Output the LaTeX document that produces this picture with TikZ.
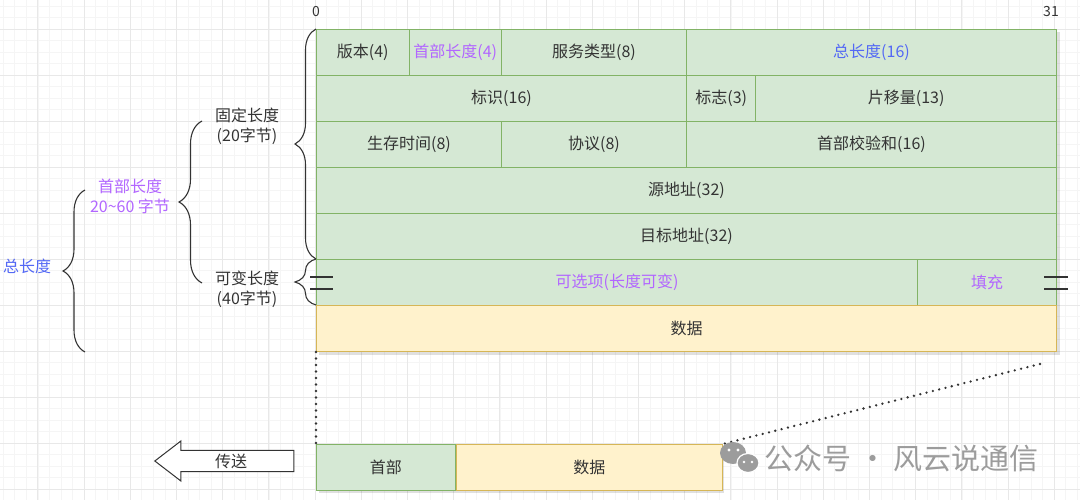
\documentclass[tikz,border=0pt]{standalone}
\usepackage{fontspec}
\setmainfont{Noto Sans CJK SC}
\usepackage{xcolor}
\usepackage{tikz}
\usetikzlibrary{arrows.meta,positioning,shapes.arrows,decorations.pathreplacing,calc}

\definecolor{grnfill}{HTML}{D5E8D4}
\definecolor{grnline}{HTML}{82B366}
\definecolor{ylwfill}{HTML}{FFF2CC}
\definecolor{ylwline}{HTML}{D6B656}
\definecolor{txtgray}{HTML}{333333}
\definecolor{hdrpurple}{HTML}{B266FF}
\definecolor{lenblue}{HTML}{5368F5}
\definecolor{wmgray}{HTML}{9C9C9C}

\begin{document}
\begin{tikzpicture}[
  x=1pt, y=-1pt,
  font=\fontsize{16}{20}\selectfont, text=txtgray,
  field/.style={draw=grnline, fill=grnfill, line width=1pt, minimum height=46pt,
                inner sep=0pt, anchor=north west},
  datafield/.style={field, draw=ylwline, fill=ylwfill},
  curly/.style={decorate, decoration={brace, amplitude=#1}, draw=txtgray, line width=1.1pt},
  brkmark/.style={draw=txtgray, line width=1.1pt},
  dotline/.style={draw=txtgray, line width=2.6pt, dash pattern=on 0pt off 6.5pt, line cap=round},
  gridminor/.style={draw=black!4, line width=0.6pt},
  gridmajor/.style={draw=black!9, line width=0.8pt},
  shadowbox/.style={fill=black, opacity=0.12},
]
  \useasboundingbox (0,0) rectangle (1080,500);
  \fill[white] (0,0) rectangle (1080,500);

  \foreach \i in {-4,...,90} {
    \draw[gridminor] ({37.8+11.55*\i},0) -- ++(0,500);
  }
  \foreach \i in {-3,...,42} {
    \draw[gridminor] (0,{29+11.5*\i}) -- ++(1080,0);
  }
  \foreach \i in {-1,...,23} {
    \draw[gridmajor] ({37.8+46.2*\i},0) -- ++(0,500);
  }
  \foreach \i in {-1,...,10} {
    \draw[gridmajor] (0,{29+46*\i}) -- ++(1080,0);
  }

  \fill[shadowbox] (319,32) rectangle (1060,355);
  \fill[shadowbox] (319,447) rectangle (724,493);

  \node[font=\fontsize{14}{16}\selectfont] (bitlo) at (316,12) {0};
  \node[font=\fontsize{14}{16}\selectfont] (bithi) at (1051,12) {31};

  \node[field, minimum width=92.5pt]  (ver)    at (316,29)   {版本(4)};
  \node[field, minimum width=92.5pt, text=hdrpurple] (ihl) at (408.5,29) {首部长度(4)};
  \node[field, minimum width=185pt]   (tos)    at (501,29)   {服务类型(8)};
  \node[field, minimum width=370pt, text=lenblue] (totlen) at (686,29) {总长度(16)};

  \node[field, minimum width=370pt]   (ident)  at (316,75)   {标识(16)};
  \node[field, minimum width=69.375pt] (flags) at (686,75)   {标志(3)};
  \node[field, minimum width=300.625pt] (frag) at (755.375,75) {片移量(13)};

  \node[field, minimum width=185pt]   (ttl)    at (316,121)  {生存时间(8)};
  \node[field, minimum width=185pt]   (proto)  at (501,121)  {协议(8)};
  \node[field, minimum width=370pt]   (chksum) at (686,121)  {首部校验和(16)};

  \node[field, minimum width=740pt]   (srcip)  at (316,167)  {源地址(32)};
  \node[field, minimum width=740pt]   (dstip)  at (316,213)  {目标地址(32)};

  \node[field, minimum width=601.25pt, text=hdrpurple] (opts) at (316,259) {可选项(长度可变)};
  \node[field, minimum width=138.75pt, text=hdrpurple] (pad)  at (917.25,259) {填充};

  \node[datafield, minimum width=740pt] (data) at (316,305) {数据};

  \draw[brkmark] (310,277) -- (333,277) (310,289) -- (333,289);
  \draw[brkmark] (1044,277) -- (1068,277) (1044,289) -- (1068,289);

  \draw[curly=21pt] (opts.north west) -- (ver.north west);
  \draw[curly=21pt] (data.north west) -- (opts.north west);

  \node[align=center] (fixlen) at (247,126) {固定长度\\(20字节)};
  \node[align=center] (varlen) at (247,289) {可变长度\\(40字节)};
  \draw[curly=23pt] (202,283) -- (202,121);

  \node[align=center, text=hdrpurple] (hdrlen) at (130,196) {首部长度\\20\textasciitilde60 字节};
  \draw[curly=22pt] (85,352) -- (85,190);
  \node[text=lenblue] (alllen) at (27,266) {总长度};

  \node[field, minimum width=138.75pt] (pkthdr) at (316,444) {首部};
  \node[datafield, minimum width=266pt, right=0pt of pkthdr] (pktdata) {数据};

  \coordinate (zoomend) at (1040,364);
  \draw[dotline] (data.south west) -- (pkthdr.north west);
  \draw[dotline] (zoomend) -- (pktdata.north east);

  \node[draw=txtgray, fill=white, line width=1pt, single arrow, shape border rotate=180,
        single arrow head extend=7pt, single arrow tip angle=75,
        minimum height=139pt, minimum width=40pt, inner sep=0pt,
        anchor=tip] (send) at (154,461) {传送};

  \fill[wmgray] (733,453) ellipse (13 and 11);
  \fill[wmgray, draw=white, line width=1.2pt] (748,463) ellipse (11 and 9.5);
  \fill[white] (729,450) circle (1.6) (738,450) circle (1.6)
               (744,462) circle (1.4) (752,462) circle (1.4);
  \node[text=wmgray, font=\fontsize{29}{32}\selectfont, anchor=west] (wmark) at (761,458)
    {公众号 · 风云说通信};
\end{tikzpicture}
\end{document}
